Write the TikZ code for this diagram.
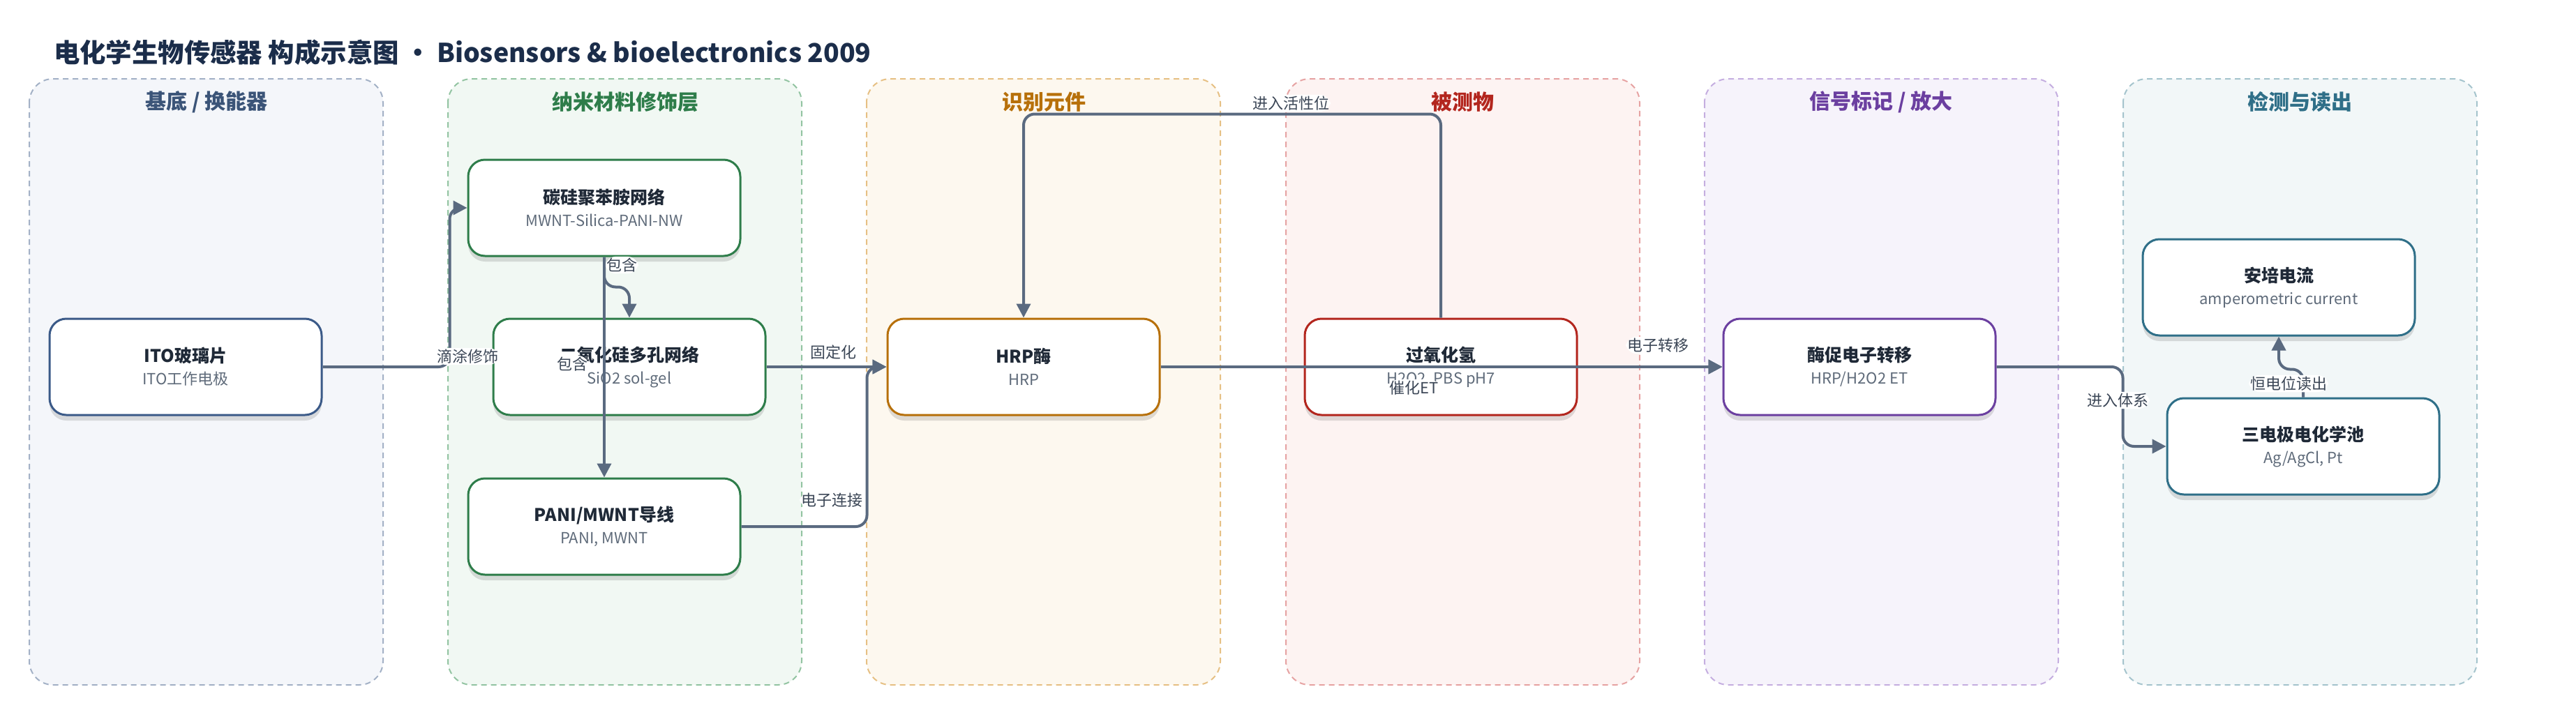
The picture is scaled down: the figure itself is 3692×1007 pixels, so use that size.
\documentclass[tikz,border=0pt]{standalone}
\usepackage{fontspec}
\setmainfont{Noto Sans CJK SC}
\usetikzlibrary{arrows.meta,shadows}

\definecolor{edgec}{HTML}{5A6A80}
\definecolor{lbltxt}{HTML}{3B4656}
\definecolor{ttl}{HTML}{1B2D4A}
\definecolor{ntxt}{HTML}{1F2937}
\definecolor{subtxt}{HTML}{5F6B7A}
% lanes: border / fill / heading
\definecolor{bA}{HTML}{A3B1C6}\definecolor{fA}{HTML}{F4F6FA}\definecolor{tA}{HTML}{3B5478}
\definecolor{bB}{HTML}{93C4A2}\definecolor{fB}{HTML}{F1F8F3}\definecolor{tB}{HTML}{2E7D4A}
\definecolor{bC}{HTML}{E6C084}\definecolor{fC}{HTML}{FDF8EF}\definecolor{tC}{HTML}{B7700A}
\definecolor{bD}{HTML}{E6A3A3}\definecolor{fD}{HTML}{FDF3F2}\definecolor{tD}{HTML}{B3261E}
\definecolor{bE}{HTML}{C5AEE0}\definecolor{fE}{HTML}{F6F3FB}\definecolor{tE}{HTML}{6B3FA0}
\definecolor{bF}{HTML}{A5C4CD}\definecolor{fF}{HTML}{F2F7F8}\definecolor{tF}{HTML}{2F6F88}
\definecolor{nA}{HTML}{3B5A88}

\newcommand{\nt}[2]{{\bfseries\fontsize{12.5}{15}\selectfont\color{ntxt}#1}\\[4pt]{\fontsize{11}{13}\selectfont\color{subtxt}#2}}

\tikzset{lane/.style 2 args={draw=#1, fill=#2, dash pattern=on 4pt off 3pt, line width=1pt, rounded corners=17pt},
  hd/.style={font=\fontsize{15}{18}\selectfont\bfseries, text=#1},
  box/.style={draw=#1, fill=white, line width=1.5pt, rounded corners=12pt, minimum width=195pt, minimum height=69pt, align=center,
    drop shadow={shadow xshift=0pt, shadow yshift=-4pt, opacity=0.12, fill=black}},
  ar/.style={draw=edgec, line width=2pt, -{Triangle[length=10pt,width=10pt]}, rounded corners=8pt},
  lbl/.style={fill=white, text=lbltxt, font=\fontsize{11}{13}\selectfont, inner sep=1pt}}

\begin{document}
\begin{tikzpicture}[x=0.5pt,y=-0.5pt]
                \useasboundingbox (0,0) rectangle (3692,1007);
                \node[anchor=west, text=ttl, font=\fontsize{18.7}{22}\selectfont\bfseries] (title) at (70,75) {电化学生物传感器 构成示意图 • Biosensors \& bioelectronics 2009};
                % lanes
                \draw[lane={bA}{fA}] (42,113) rectangle ++(507,869);
                \draw[lane={bB}{fB}] (642,113) rectangle ++(507,869);
                \draw[lane={bC}{fC}] (1242,113) rectangle ++(507,869);
                \draw[lane={bD}{fD}] (1843,113) rectangle ++(507,869);
                \draw[lane={bE}{fE}] (2443,113) rectangle ++(507,869);
                \draw[lane={bF}{fF}] (3043,113) rectangle ++(507,869);
                \node[hd=tA] (h1) at (296,146) {基底 / 换能器};
                \node[hd=tB] (h2) at (896,146) {纳米材料修饰层};
                \node[hd=tC] (h3) at (1496,146) {识别元件};
                \node[hd=tD] (h4) at (2096,146) {被测物};
                \node[hd=tE] (h5) at (2696,146) {信号标记 / 放大};
                \node[hd=tF] (h6) at (3296,146) {检测与读出};
                % blocks
                \node[box=nA] (ito) at (266,526) {\nt{ITO玻璃片}{ITO工作电极}};
                \node[box=tB] (csp) at (866,298) {\nt{碳硅聚苯胺网络}{MWNT-Silica-PANI-NW}};
                \node[box=tB] (sio) at (902,526) {\nt{二氧化硅多孔网络}{SiO2 sol-gel}};
                \node[box=tB] (pani) at (866,755) {\nt{PANI/MWNT导线}{PANI, MWNT}};
                \node[box=tC] (hrp) at (1467,526) {\nt{HRP酶}{HRP}};
                \node[box=tD] (hoo) at (2065,526) {\nt{过氧化氢}{H2O2, PBS pH7}};
                \node[box=tE] (enz) at (2665,526) {\nt{酶促电子转移}{HRP/H2O2 ET}};
                \node[box=tF] (amp) at (3266,412) {\nt{安培电流}{amperometric current}};
                \node[box=tF] (cell) at (3301,640) {\nt{三电极电化学池}{Ag/AgCl, Pt}};
                % links
                \draw[ar] (ito.east) -- ++(182,0) |- (csp.west) node[lbl] at (670,511) {滴涂修饰};
                \draw[ar] (csp.south) -- ++(0,43) -| (sio.north) node[lbl] at (891,380) {包含};
                \draw[ar] (csp.south) -- (pani.north) node[lbl] at (820,522) {包含};
                \draw[ar] (sio.east) -- (hrp.west) node[lbl] at (1194,505) {固定化};
                \draw[ar] (pani.east) -- ++(180,0) |- (hrp.west) node[lbl] at (1192,717) {电子连接};
                \draw[ar] (hoo.north) -- ++(0,-292) -| (hrp.north) node[lbl] at (1850,148) {进入活性位};
                \draw[ar] (hrp.east) -- (enz.west) node[lbl] at (2027,556) {催化ET};
                \draw[ar] (hoo.east) -- (enz.west) node[lbl] at (2376,495) {电子转移};
                \draw[ar] (enz.east) -- ++(181,0) |- (cell.west) node[lbl] at (3035,574) {进入体系};
                \draw[ar] (cell.north) -- ++(0,-40) -| (amp.south) node[lbl] at (3280,550) {恒电位读出};
\end{tikzpicture}
\end{document}
